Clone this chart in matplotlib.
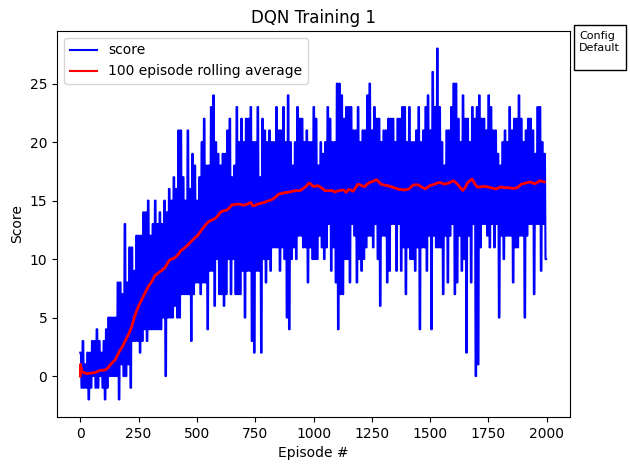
import numpy as np
import matplotlib
matplotlib.use("Agg")
import matplotlib.pyplot as plt

# envelope of the score per 10 episodes
score_high = [
    2, 3, 1, 2, 2, 3, 3, 4, 3, 2,
    3, 4, 5, 5, 5, 5, 8, 8, 7, 13,
    8, 11, 11, 9, 12, 12, 12, 14, 14, 15,
    12, 13, 15, 13, 14, 13, 15, 14, 16, 15,
    17, 16, 21, 21, 17, 15, 21, 16, 19, 18,
    15, 17, 20, 22, 18, 18, 23, 24, 20, 19,
    18, 19, 19, 21, 22, 17, 18, 23, 20, 22,
    20, 22, 22, 23, 20, 20, 23, 17, 22, 21,
    20, 21, 20, 20, 23, 21, 21, 23, 20, 24,
    20, 18, 20, 23, 22, 22, 20, 21, 20, 20,
    23, 22, 18, 20, 19, 20, 23, 22, 20, 20,
    25, 25, 24, 22, 23, 23, 23, 21, 21, 23,
    20, 21, 21, 24, 25, 21, 23, 22, 22, 20,
    21, 21, 22, 22, 22, 20, 22, 22, 23, 23,
    20, 23, 20, 20, 21, 23, 20, 21, 23, 24,
    21, 26, 23, 28, 23, 20, 18, 21, 21, 23,
    25, 25, 22, 20, 24, 22, 22, 20, 23, 22,
    23, 24, 22, 22, 21, 24, 23, 21, 21, 19,
    18, 20, 21, 20, 23, 21, 22, 22, 24, 22,
    20, 21, 22, 22, 21, 19, 23, 23, 20, 19,
]
score_low = [
    -1, -1, -1, -2, -1, 0, -1, -1, 0, -1,
    -2, -1, 0, 0, 0, 0, -2, 1, 0, 0,
    1, -1, 3, 3, 3, 2, 3, 4, 3, 4,
    4, 4, 4, 4, 4, 5, 0, 5, 5, 5,
    6, 5, 5, 7, 7, 7, 7, 3, 7, 8,
    8, 7, 8, 8, 4, 9, 9, 6, 10, 7,
    7, 6, 7, 10, 7, 10, 7, 7, 7, 9,
    5, 9, 9, 3, 2, 9, 9, 2, 10, 8,
    10, 9, 11, 11, 11, 9, 11, 10, 5, 4,
    10, 11, 10, 12, 12, 11, 11, 8, 11, 10,
    10, 10, 12, 11, 10, 11, 13, 9, 11, 8,
    4, 7, 7, 10, 10, 8, 13, 12, 8, 10,
    9, 10, 11, 12, 12, 11, 13, 10, 6, 12,
    12, 8, 9, 13, 13, 9, 13, 9, 11, 7,
    11, 10, 10, 9, 11, 4, 11, 11, 9, 12,
    4, 12, 11, 11, 11, 7, 12, 8, 12, 13,
    7, 8, 12, 9, 10, 2, 12, 8, 13, 0,
    1, 11, 13, 13, 12, 11, 13, 11, 13, 5,
    12, 10, 12, 12, 12, 8, 11, 11, 12, 12,
    5, 12, 13, 13, 7, 13, 13, 9, 13, 10,
]
rolling_avg = [
    0.5, 0.35, 0.25, 0.2, 0.25, 0.25, 0.3, 0.35, 0.45, 0.5,
    0.5, 0.55, 0.75, 1.0, 1.2, 1.4, 1.8, 2.2, 2.5, 2.9,
    3.3, 3.7, 4.2, 4.9, 5.5, 6.0, 6.4, 6.8, 7.2, 7.6,
    7.9, 8.2, 8.6, 8.75, 8.9, 9.05, 9.2, 9.5, 9.85, 10.0,
    10.05, 10.2, 10.4, 10.7, 10.85, 11.0, 11.2, 11.4, 11.6, 11.8,
    11.95, 12.2, 12.5, 12.75, 13.0, 13.2, 13.3, 13.4, 13.5, 13.7,
    14.0, 14.1, 14.15, 14.2, 14.4, 14.64, 14.65, 14.7, 14.7, 14.65,
    14.6, 14.65, 14.75, 14.84, 14.55, 14.6, 14.7, 14.75, 14.8, 14.85,
    14.95, 15.0, 15.07, 15.2, 15.35, 15.55, 15.6, 15.65, 15.7, 15.7,
    15.75, 15.8, 15.85, 15.85, 15.84, 15.95, 16.1, 16.25, 16.5, 16.4,
    16.2, 16.25, 16.27, 16.15, 16.0, 15.84, 15.85, 15.85, 15.87, 15.73,
    15.8, 15.85, 15.9, 15.9, 15.7, 15.95, 15.9, 15.8, 16.1, 16.4,
    16.35, 16.25, 16.2, 16.4, 16.55, 16.6, 16.7, 16.8, 16.6, 16.4,
    16.35, 16.3, 16.27, 16.2, 16.15, 16.07, 16.0, 15.95, 15.95, 15.9,
    15.95, 16.0, 16.2, 16.35, 16.35, 16.35, 16.2, 16.1, 16.0, 16.15,
    16.3, 16.35, 16.4, 16.5, 16.55, 16.5, 16.4, 16.45, 16.5, 16.6,
    16.7, 16.55, 16.35, 16.1, 15.87, 16.1, 16.5, 16.7, 16.84, 16.5,
    16.2, 16.15, 16.2, 16.2, 16.2, 16.15, 16.1, 16.05, 16.0, 16.05,
    16.15, 16.15, 16.1, 16.1, 16.1, 16.05, 16.05, 16.07, 16.2, 16.4,
    16.45, 16.5, 16.55, 16.6, 16.5, 16.44, 16.55, 16.7, 16.65, 16.6,
]
# first few episodes of the average jump about before settling
first_avg = [0.0, 1.0, 0.33, 0.75, 0.4]

# each bin: twice high, twice low, so the band comes out solid instead of a comb
scores = np.column_stack([score_high, score_high, score_low, score_low]).ravel()
episodes = np.arange(len(scores)) * 2.5
avg_episodes = np.concatenate([np.arange(len(first_avg)), np.arange(1, len(rolling_avg)) * 10])
avg_values = first_avg + rolling_avg[1:]

fig, ax = plt.subplots(figsize=(6.3, 4.7), dpi=100)
ax.plot(episodes, scores, color="b", label="score")
ax.plot(avg_episodes, avg_values, color="r", linewidth=2, label="100 episode rolling average")
ax.set_xlim(-100, 2100)
ax.set_ylim(-3.5, 29.5)
ax.set_title("DQN Training 1")
ax.set_xlabel("Episode #")
ax.set_ylabel("Score")
leg = ax.legend(loc="upper left")
leg.get_lines()[1].set_linewidth(1.5)

ax.text(1.018, 1.0, "Config\nDefault\n", transform=ax.transAxes, fontsize=8, va="top", ha="left",
        bbox=dict(facecolor="white", edgecolor="black", pad=4))

fig.subplots_adjust(left=57 / 630, right=570 / 630, top=1 - 31 / 470, bottom=1 - 417 / 470)
fig.savefig("out.png", dpi=100)
